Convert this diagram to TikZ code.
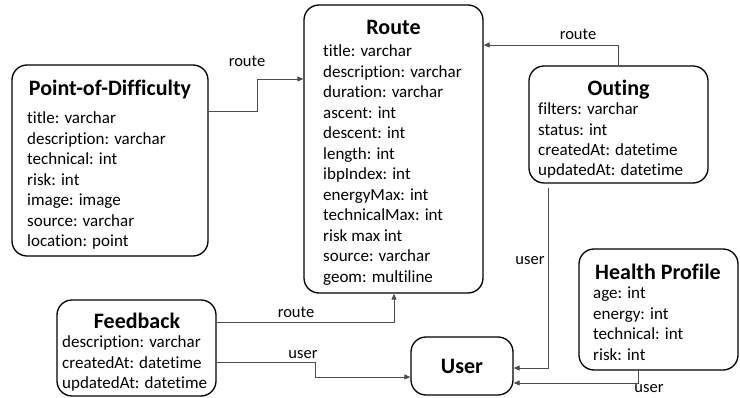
\documentclass[tikz,border=0pt]{standalone}
\usepackage{fontspec}
\setmainfont[Ligatures=NoCommon]{Carlito}
\usetikzlibrary{arrows.meta}
\begin{document}
\begin{tikzpicture}[x=1pt,y=-1pt,
  entity/.style={draw=black, line width=1.3pt, rounded corners=15pt, inner sep=0pt},
  etitle/.style={font=\fontsize{22}{24}\selectfont\bfseries, inner sep=0pt, anchor=mid, yshift=-4.5pt},
  attr/.style={font=\fontsize{17}{20}\selectfont, inner sep=0pt, anchor=mid west, yshift=-4.5pt},
  rel/.style={draw=black!70, line width=0.8pt, -{Triangle[length=6pt,width=5pt]}},
  rlabel/.style={font=\fontsize{16.5}{20}\selectfont, inner sep=0pt, anchor=mid, yshift=-4pt}]
\useasboundingbox (0,0) rectangle (740,398);

% entity boxes
\node[entity, minimum width=196pt, minimum height=191pt] (pod) at (110,160.5) {};
\node[entity, minimum width=179pt, minimum height=288pt] (route) at (393.5,149) {};
\node[entity, minimum width=179pt, minimum height=117pt] (outing) at (618.5,124.5) {};
\node[entity, minimum width=159pt, minimum height=96pt] (feedback) at (136.5,348) {};
\node[entity, minimum width=102pt, minimum height=58pt] (user) at (462,366) {};
\node[entity, minimum width=159pt, minimum height=121pt] (health) at (658.5,309.5) {};

% titles
\node[etitle] (podT) at (110,89) {Point-of-Difficulty};
\node[etitle] (routeT) at (393.5,28) {Route};
\node[etitle] (outingT) at (618.5,89) {Outing};
\node[etitle] (feedbackT) at (137,322) {Feedback};
\node[etitle] (userT) at (462,367) {User};
\node[etitle] (healthT) at (658,273) {Health Profile};

% attributes
\foreach [count=\i] \t in {title: varchar, description: varchar, technical: int, risk: int,
    image: image, source: varchar, location: point}
  \node[attr] (podA\i) at (27,{117+(\i-1)*20.5}) {\t};
\foreach [count=\i] \t in {title: varchar, description: varchar, duration: varchar, ascent: int,
    descent: int, length: int, ibpIndex: int, energyMax: int, technicalMax: int,
    risk max int, source: varchar, geom: multiline}
  \node[attr] (routeA\i) at (323,{50+(\i-1)*20.5}) {\t};
\foreach [count=\i] \t in {filters: varchar, status: int, createdAt: datetime, updatedAt: datetime}
  \node[attr] (outingA\i) at (538,{108+(\i-1)*20.3}) {\t};
\foreach [count=\i] \t in {description: varchar, createdAt: datetime, updatedAt: datetime}
  \node[attr] (feedbackA\i) at (62,{341+(\i-1)*20.5}) {\t};
\foreach [count=\i] \t in {age: int, energy: int, technical: int, risk: int}
  \node[attr] (healthA\i) at (593,{292+(\i-1)*20.5}) {\t};

% relations
\draw[rel] (pod.east |- 0,111) -- (257,111) |- (route.west |- 0,79);
\node[rlabel] (l1) at (247,60) {route};

\draw[rel] (outing.north -| 618,0) |- (route.east |- 0,45);
\node[rlabel] (l2) at (578,33) {route};

\draw[rel] (feedback.east |- 0,322) -| (route.south -| 394,0);
\node[rlabel] (l3) at (296,311) {route};

\draw[rel] (feedback.east |- 0,362) -- (315,362) |- (user.west |- 0,377);
\node[rlabel] (l4) at (303,352) {user};

\draw[rel] (548,188) |- (user.east |- 0,368);
\node[rlabel] (l5) at (530,258) {user};

\draw[rel] (health.south -| 638,0) |- (user.east |- 0,383);
\node[rlabel] (l6) at (649,386) {user};
\end{tikzpicture}
\end{document}
